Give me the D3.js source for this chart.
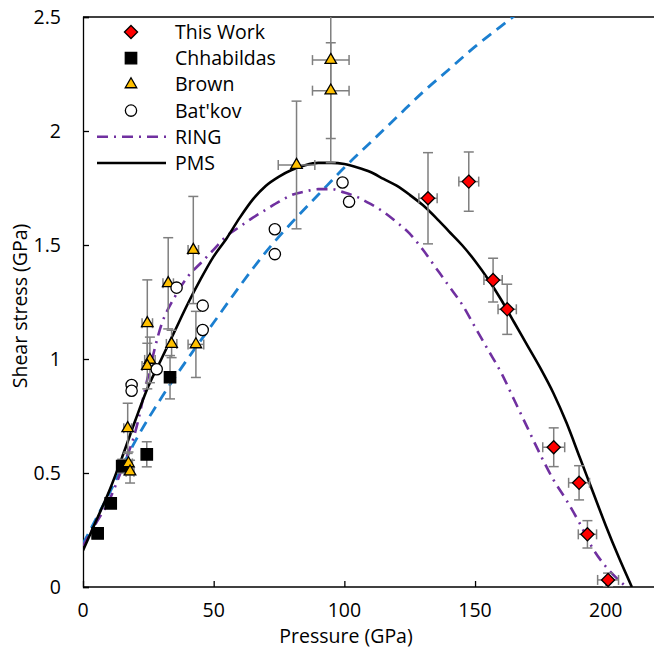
<!DOCTYPE html>
<html><head><meta charset="utf-8">
<script src="https://cdn.jsdelivr.net/npm/d3@7"></script>
<style>body{margin:0;background:#fff}svg{display:block}text{font-family:"Open Sans",Lato,sans-serif}</style>
</head><body><svg id="c" width="654" height="652"></svg>
<script>
// ---- data ----
const xTicks = [0, 50, 100, 150, 200];
const yTicks = [0, 0.5, 1, 1.5, 2, 2.5];
const yTickLabels = ["0", "0.5", "1", "1.5", "2", "2.5"];

const thisWorkP = [132.0, 147.6, 156.9, 162.3, 180.1, 189.8, 193.0, 200.9];
const thisWorkS = [1.705, 1.778, 1.346, 1.218, 0.613, 0.457, 0.231, 0.031];
const thisWorkPErr = [3.5, 3.8, 3.5, 3.5, 4.2, 4.0, 3.5, 4.0];
const thisWorkSErr = [0.2, 0.13, 0.096, 0.11, 0.085, 0.075, 0.06, 0.03];

const chhP = [5.6, 10.6, 15.0, 24.4, 33.3];
const chhS = [0.235, 0.367, 0.53, 0.582, 0.92];
const chhPErr = [1, 1, 1, 1.5, 1.5];
const chhSErr = [0.02, 0.02, 0.03, 0.055, 0.095];

const brownP = [17.1, 17.4, 18.0, 24.6, 25.6, 24.6, 32.6, 33.9, 42.2, 43.2, 81.7, 94.8, 94.8];
const brownS = [0.696, 0.542, 0.506, 1.157, 0.996, 0.969, 1.332, 1.066, 1.478, 1.064, 1.851, 2.311, 2.177];
const brownPErr = [1.5, 1.5, 1.5, 2, 2, 2, 2, 2, 2, 3, 7, 7, 7];
const brownSErr = [0.11, 0.05, 0.05, 0.19, 0.10, 0.10, 0.20, 0.06, 0.235, 0.145, 0.28, 0.45, 0.21];

const batP = [18.6, 18.6, 28.2, 35.8, 45.8, 45.8, 73.4, 73.4, 99.3, 101.8];
const batS = [0.886, 0.861, 0.955, 1.313, 1.234, 1.127, 1.569, 1.46, 1.774, 1.69];

const ringP = [0,5,10,15,20,25,30,35,40,45,50,55,60,65,70,75,80,85,90,95,100,105,110,115,120,125,130,135,140,145,150,155,160,165,170,175,180,185,190,195,200,205,208];
const ringS = [0.18,0.28,0.38,0.52,0.68,0.93,1.15,1.27,1.36,1.42,1.48,1.54,1.58,1.62,1.655,1.69,1.72,1.735,1.745,1.745,1.73,1.71,1.68,1.645,1.60,1.55,1.48,1.40,1.32,1.24,1.14,1.04,0.94,0.82,0.70,0.58,0.47,0.38,0.28,0.17,0.09,0.03,0];

const pmsP = [0,5,10,15,20,25,30,35,40,45,50,55,60,65,70,75,80,85,90,95,100,105,110,115,120,125,130,135,140,145,150,155,160,165,170,175,180,185,190,195,200,205,210];
const pmsS = [0.16,0.29,0.42,0.57,0.73,0.88,1.0,1.12,1.24,1.35,1.45,1.53,1.62,1.70,1.76,1.80,1.83,1.85,1.86,1.86,1.855,1.84,1.82,1.79,1.76,1.72,1.675,1.62,1.56,1.50,1.43,1.35,1.26,1.16,1.06,0.96,0.85,0.72,0.57,0.42,0.27,0.13,0.0];

const blueP = [0,10,20,30,40,50,60,70,80,90,100,110,120,130,140,150,160,170];
const blueS = [0.19,0.41,0.64,0.83,1.0,1.16,1.32,1.47,1.60,1.72,1.84,1.95,2.06,2.17,2.27,2.37,2.46,2.55];

// ---- layout ----
const svg = d3.select("#c");
const x = d3.scaleLinear().domain([0, 220]).range([83, 658]);
const y = d3.scaleLinear().domain([0, 2.5]).range([587, 17]);
const zip = (a, b) => a.map((v, i) => [v, b[i]]);
const FS = 19.5;

svg.append("defs").append("clipPath").attr("id", "clip")
  .append("rect").attr("x", 83).attr("y", 17).attr("width", 575).attr("height", 570);

// frame: top line
svg.append("line").attr("x1", 83).attr("x2", 654).attr("y1", 17).attr("y2", 17)
  .attr("stroke", "#000").attr("stroke-width", 1.3);

// axes (ticks inward)
const xAxis = svg.append("g").attr("transform", "translate(0,587)")
  .call(d3.axisTop(x).tickValues(xTicks).tickSize(6).tickFormat(""));
xAxis.select(".domain").attr("d", "M83,0H654");
const yAxis = svg.append("g").attr("transform", "translate(83,0)")
  .call(d3.axisRight(y).tickValues(yTicks).tickSize(6).tickFormat(""));
svg.selectAll(".domain, .tick line").attr("stroke", "#000").attr("stroke-width", 1.3);

// tick labels
svg.append("g").selectAll("text").data(xTicks).join("text")
  .attr("x", d => x(d)).attr("y", 617).attr("text-anchor", "middle")
  .attr("font-size", FS).text(d => d);
svg.append("g").selectAll("text").data(yTicks).join("text")
  .attr("x", 61).attr("y", d => y(d) + 7).attr("text-anchor", "end")
  .attr("font-size", FS).text((d, i) => yTickLabels[i]);

// axis titles
svg.append("text").attr("x", 346).attr("y", 643).attr("text-anchor", "middle")
  .attr("font-size", FS).text("Pressure (GPa)");
svg.append("text").attr("transform", "translate(27,306) rotate(-90)")
  .attr("text-anchor", "middle").attr("font-size", FS).text("Shear stress (GPa)");

// curves
const line = d3.line().x(d => x(d[0])).y(d => y(d[1])).curve(d3.curveMonotoneX);
const curves = svg.append("g").attr("clip-path", "url(#clip)");
curves.append("path").attr("d", line(zip(blueP, blueS))).attr("fill", "none")
  .attr("stroke", "#1b7fd0").attr("stroke-width", 2.8).attr("stroke-dasharray", "11,7");
curves.append("path").attr("d", line(zip(ringP, ringS))).attr("fill", "none")
  .attr("stroke", "#7030A0").attr("stroke-width", 2.6).attr("stroke-dasharray", "11,6,2,6");
curves.append("path").attr("d", line(zip(pmsP, pmsS))).attr("fill", "none")
  .attr("stroke", "#000").attr("stroke-width", 2.6);

// error bars
const errG = svg.append("g").attr("clip-path", "url(#clip)")
  .attr("stroke", "#7f7f7f").attr("stroke-width", 1.5);
function errBars(P, S, PE, SE) {
  P.forEach((p, i) => {
    const cx = x(p), cy = y(S[i]);
    const y1 = y(S[i] + SE[i]), y2 = y(S[i] - SE[i]);
    const x1 = x(p - PE[i]), x2 = x(p + PE[i]);
    errG.append("line").attr("x1", cx).attr("x2", cx).attr("y1", y1).attr("y2", y2);
    errG.append("line").attr("x1", cx - 5).attr("x2", cx + 5).attr("y1", y1).attr("y2", y1);
    errG.append("line").attr("x1", cx - 5).attr("x2", cx + 5).attr("y1", y2).attr("y2", y2);
    errG.append("line").attr("x1", x1).attr("x2", x2).attr("y1", cy).attr("y2", cy);
    errG.append("line").attr("x1", x1).attr("x2", x1).attr("y1", cy - 5).attr("y2", cy + 5);
    errG.append("line").attr("x1", x2).attr("x2", x2).attr("y1", cy - 5).attr("y2", cy + 5);
  });
}
errBars(thisWorkP, thisWorkS, thisWorkPErr, thisWorkSErr);
errBars(chhP, chhS, chhPErr, chhSErr);
errBars(brownP, brownS, brownPErr, brownSErr);

// markers
const sym = {
  diamond: d3.symbol().type(d3.symbolDiamond2).size(110)(),
  square: d3.symbol().type(d3.symbolSquare).size(130)(),
  triangle: d3.symbol().type(d3.symbolTriangle2).size(95)(),
  circle: d3.symbol().type(d3.symbolCircle).size(100)()
};
const styles = {
  diamond: { fill: "#ff0000", stroke: "#000" },
  square: { fill: "#000", stroke: "#000" },
  triangle: { fill: "#ffc000", stroke: "#000" },
  circle: { fill: "#fff", stroke: "#000" }
};
function markers(P, S, kind) {
  svg.append("g").selectAll("path").data(zip(P, S)).join("path")
    .attr("d", sym[kind])
    .attr("transform", d => `translate(${x(d[0])},${y(d[1])})`)
    .attr("fill", styles[kind].fill).attr("stroke", styles[kind].stroke).attr("stroke-width", 1.3);
}
markers(chhP, chhS, "square");
markers(brownP, brownS, "triangle");
markers(batP, batS, "circle");
markers(thisWorkP, thisWorkS, "diamond");

// legend
const legendItems = [
  { label: "This Work", kind: "diamond" },
  { label: "Chhabildas", kind: "square" },
  { label: "Brown", kind: "triangle" },
  { label: "Bat'kov", kind: "circle" },
  { label: "RING", kind: "ring" },
  { label: "PMS", kind: "pms" }
];
const lg = svg.append("g");
legendItems.forEach((it, i) => {
  const cy = 32 + i * 26.2;
  if (sym[it.kind]) {
    lg.append("path").attr("d", sym[it.kind]).attr("transform", `translate(131,${cy})`)
      .attr("fill", styles[it.kind].fill).attr("stroke", styles[it.kind].stroke).attr("stroke-width", 1.3);
  } else {
    lg.append("line").attr("x1", 97).attr("x2", 166).attr("y1", cy).attr("y2", cy)
      .attr("stroke", it.kind === "ring" ? "#7030A0" : "#000").attr("stroke-width", 2.6)
      .attr("stroke-dasharray", it.kind === "ring" ? "11,6,2,6" : null);
  }
  lg.append("text").attr("x", 175).attr("y", cy + 7).attr("font-size", FS).text(it.label);
});
</script></body></html>
